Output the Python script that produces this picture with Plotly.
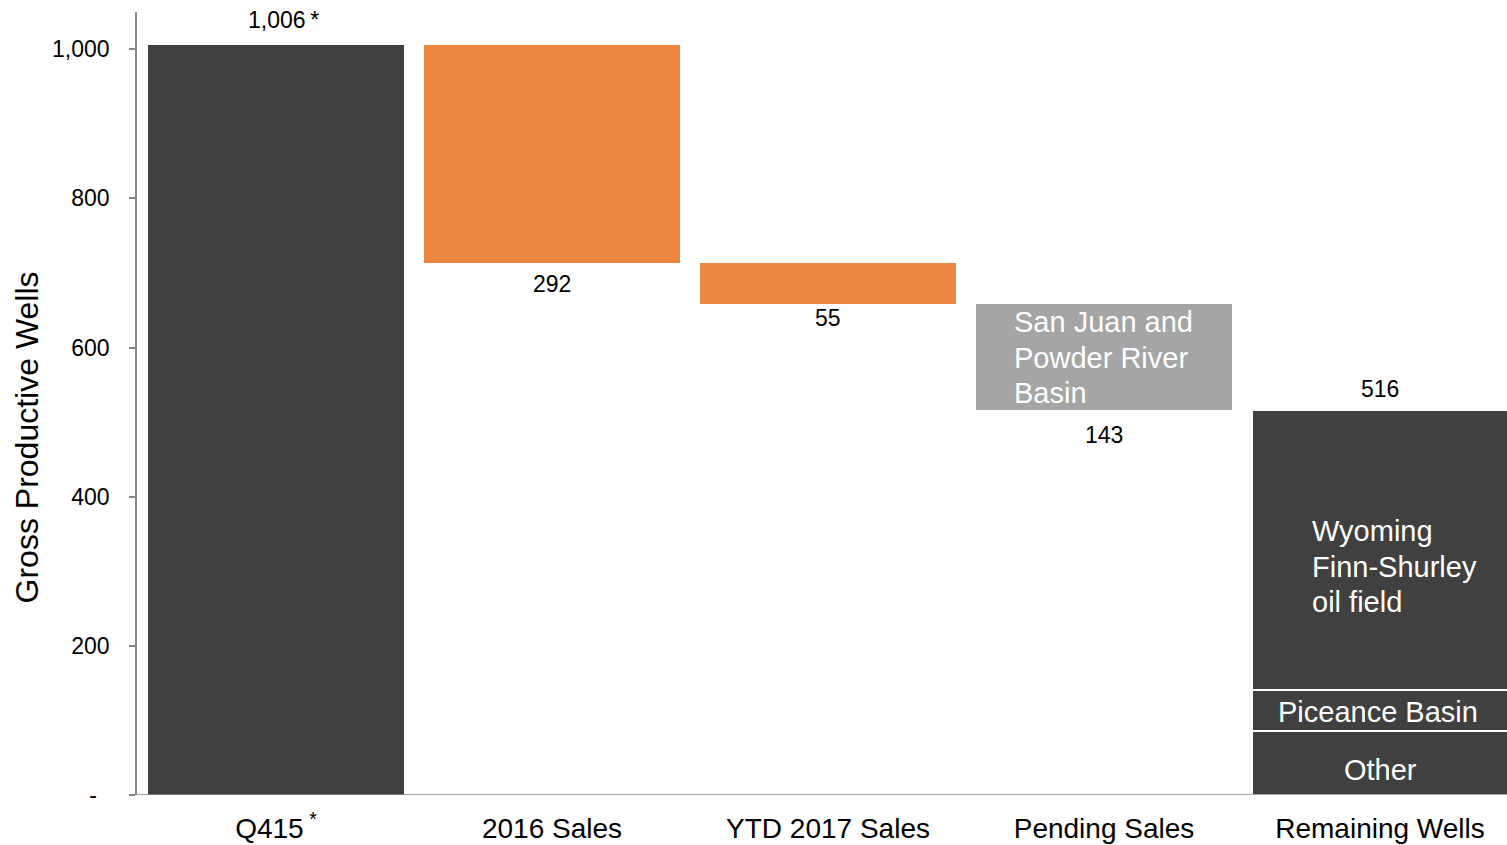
import plotly.graph_objects as go

# ---- data ----
categories = ["Q415\u2009<sup>*</sup>", "2016 Sales", "YTD 2017 Sales", "Pending Sales", "Remaining Wells"]
start_wells = 1006
sale_steps = [292, 55]          # 2016 Sales, YTD 2017 Sales
pending_sales = 143
remaining_names = ["Other", "Piceance Basin", "Wyoming<br>Finn-Shurley<br>oil field"]
remaining_values = [86, 55, 375]
y_tickvals = [0, 200, 400, 600, 800, 1000]
y_ticktext = ["-\u00a0\u00a0", "200", "400", "600", "800", "1,000"]
y_title = "Gross Productive Wells"

DARK = "#404040"
ORANGE = "#ED8641"
GRAY = "#A5A5A5"
FONT = "Liberation Sans, Arial, sans-serif"
W = 0.9275

fig = go.Figure()

# starting bar
fig.add_trace(go.Bar(x=[0], y=[start_wells], base=[0], width=W,
                     marker=dict(color=DARK, line=dict(width=0)), showlegend=False))

# decreases
running = start_wells
dec_bases = []
for v in sale_steps:
    running -= v
    dec_bases.append(running)
fig.add_trace(go.Bar(x=[1, 2], y=sale_steps, base=dec_bases, width=W,
                     marker=dict(color=ORANGE, line=dict(width=0)), showlegend=False))

running -= pending_sales
pending_base = running
fig.add_trace(go.Bar(x=[3], y=[pending_sales], base=[pending_base], width=W,
                     marker=dict(color=GRAY, line=dict(width=0)), showlegend=False))

# remaining stack
cum = 0
seg_bases = []
for v in remaining_values:
    seg_bases.append(cum)
    cum += v
for b, v in zip(seg_bases, remaining_values):
    fig.add_trace(go.Bar(x=[4], y=[v], base=[b], width=W,
                         marker=dict(color=DARK, line=dict(width=2, color="white")),
                         showlegend=False))
remaining_total = cum

ann = []
def lab(x, y, text, yshift, xshift=0, color="black", size=23, xanchor="center"):
    ann.append(dict(x=x, y=y, xref="x", yref="y", text=text, showarrow=False,
                    xanchor=xanchor, yanchor="middle", xshift=xshift, yshift=yshift,
                    font=dict(family=FONT, size=size, color=color)))

# value labels
lab(0, start_wells, f"{start_wells:,}\u2009*", 25, xshift=7)
lab(1, dec_bases[0], f"{sale_steps[0]:,}", -21.5)
lab(2, dec_bases[1], f"{sale_steps[1]:,}", -14)
lab(3, pending_base, f"{pending_sales:,}", -25)
lab(4, remaining_total, f"{remaining_total:,}", 21)

# inner labels
for i, line in enumerate(["San Juan and", "Powder River", "Basin"]):
    lab(3 - W / 2, pending_base + pending_sales, line, -(18.5 + i * 35.5),
        xshift=36, color="white", size=29, xanchor="left")
wy_lines = remaining_names[2].split("<br>")
for i, line in enumerate(wy_lines):
    lab(4 - W / 2, remaining_total, line, -(121 + i * 35.5),
        xshift=58, color="white", size=29, xanchor="left")
lab(4, seg_bases[1] + remaining_values[1] / 2, remaining_names[1], -1.5, xshift=-2, color="white", size=29)
lab(4, seg_bases[0] + remaining_values[0] / 2, remaining_names[0], -7, color="white", size=29)

# y axis title
ann.append(dict(x=-0.0796, y=0.4566, xref="paper", yref="paper", text=y_title,
                showarrow=False, textangle=-90, xanchor="center", yanchor="middle",
                font=dict(family=FONT, size=32, color="black")))

fig.update_layout(
    width=1507, height=845,
    margin=dict(l=137, r=0, t=12, b=50),
    paper_bgcolor="white", plot_bgcolor="white",
    barmode="overlay", bargap=0,
    annotations=ann,
    font=dict(family=FONT, color="black"),
    shapes=[dict(type="line", xref="paper", yref="y", x0=-0.0051, x1=1, y0=0, y1=0,
                 line=dict(color="#868686", width=1.5))],
)
fig.update_xaxes(range=[-0.5036, 4.4601], tickvals=list(range(len(categories))),
                 ticktext=categories, tickfont=dict(size=28, family=FONT, color="black"),
                 showgrid=False, zeroline=False, showline=False, ticks="",
                 ticklabelstandoff=14)
fig.update_yaxes(range=[0, 1050], tickvals=y_tickvals, ticktext=y_ticktext,
                 tickfont=dict(size=23, family=FONT, color="black"),
                 showgrid=False, zeroline=False, showline=True, linecolor="#868686", linewidth=1.5,
                 ticks="outside", ticklen=6, tickcolor="#868686", tickwidth=1.5,
                 ticklabelstandoff=15)

fig.write_html("out.html", config={"displayModeBar": False},
               post_script="document.body.style.margin='0';")
